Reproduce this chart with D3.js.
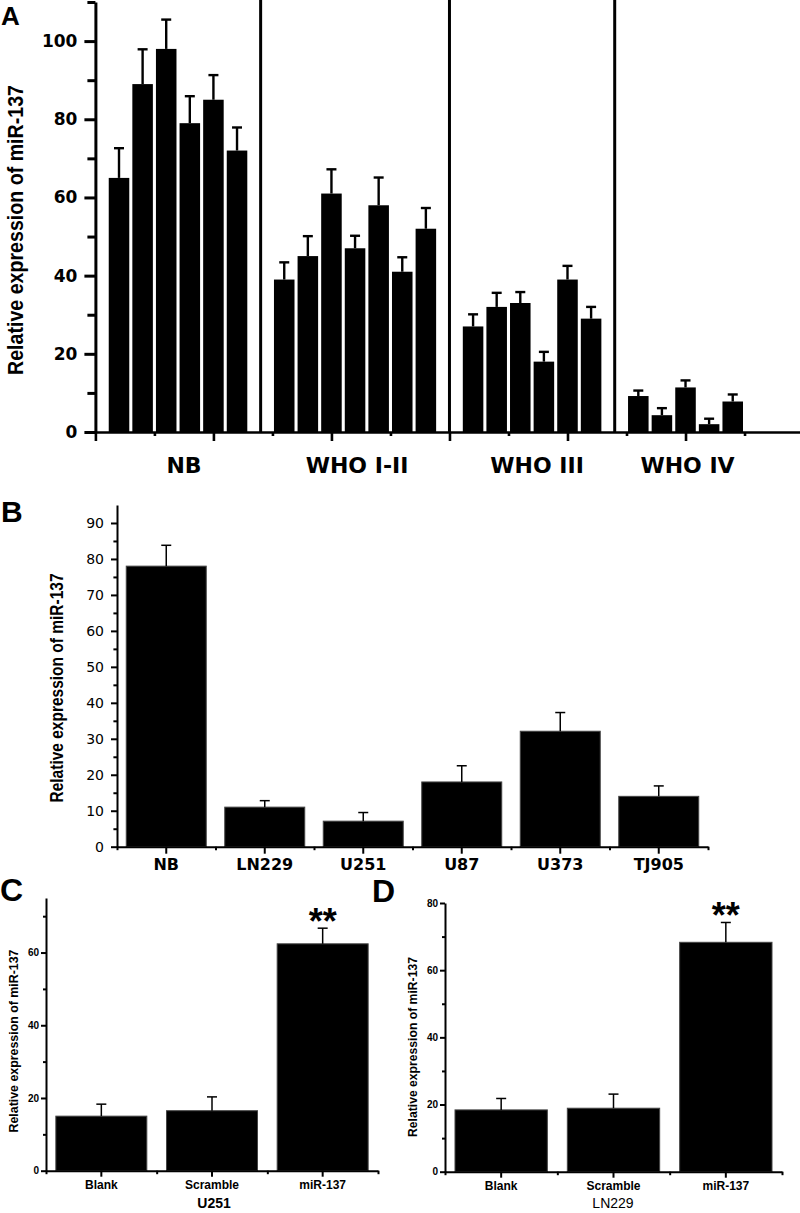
<!DOCTYPE html>
<html>
<head>
<meta charset="utf-8">
<script src="https://cdn.jsdelivr.net/npm/d3@7"></script>
<style>
body { margin: 0; background: #fff; }
svg { display: block; }
</style>
</head>
<body>
<svg id="fig" width="800" height="1213"></svg>
<script>
// ---- Panel A: tissue samples by grade ----
var gradeNames = ["NB", "WHO I-II", "WHO III", "WHO IV"];
var nbVals = [65, 89, 98, 79, 85, 72];
var nbErr = [7.6, 8.9, 7.5, 6.9, 6.3, 5.9];
var who12Vals = [39, 45, 61, 47, 58, 41, 52];
var who12Err = [4.4, 5.1, 6.2, 3.2, 7.1, 3.7, 5.3];
var who3Vals = [27, 32, 33, 18, 39, 29];
var who3Err = [3.1, 3.6, 2.8, 2.5, 3.5, 3];
var who4Vals = [9.2, 4.3, 11.4, 2, 7.8];
var who4Err = [1.4, 1.8, 1.8, 1.4, 1.8];
var aTicks = [0, 20, 40, 60, 80, 100];

// ---- Panel B: cell lines ----
var cellLines = ["NB", "LN229", "U251", "U87", "U373", "TJ905"];
var cellVals = [78, 11, 7.1, 18, 32.1, 14];
var cellErr = [5.8, 1.8, 2.4, 4.5, 5.2, 2.9];
var bTicks = [0, 10, 20, 30, 40, 50, 60, 70, 80, 90];

// ---- Panels C and D: transfection ----
var treatments = ["Blank", "Scramble", "miR-137"];
var u251Vals = [15, 16.5, 62.4];
var u251Err = [3.3, 3.8, 4.3];
var ln229Vals = [18.4, 18.9, 68.3];
var ln229Err = [3.4, 4.2, 5.9];
var cdTicks = [0, 20, 40, 60, 80];

var ylabel = "Relative expression of miR-137";
var sans = "'Liberation Sans', Arial, sans-serif";
var wide = "'DejaVu Sans', Verdana, sans-serif";

var svg = d3.select("#fig");

function styleAxis(sel, w) {
  sel.selectAll("path.domain").attr("stroke", "#000").attr("stroke-width", w);
  sel.selectAll(".tick line").attr("stroke", "#000").attr("stroke-width", w);
}

function panelLetter(txt, x, y, size) {
  svg.append("text").attr("x", x).attr("y", y)
    .attr("font-family", sans).attr("font-weight", "bold")
    .attr("font-size", size).text(txt);
}

function yTitle(x, yc, size, len, weight) {
  svg.append("text")
    .attr("transform", "translate(" + x + "," + yc + ") rotate(-90)")
    .attr("text-anchor", "middle")
    .attr("font-family", sans).attr("font-weight", weight || "bold")
    .attr("font-size", size)
    .attr("textLength", len).attr("lengthAdjust", "spacingAndGlyphs")
    .text(ylabel);
}

// ================= Panel A =================
var groupsA = [nbVals, who12Vals, who3Vals, who4Vals];
var errsA = [nbErr, who12Err, who3Err, who4Err];
var barsA = [], sepSlots = [], groupMid = [];
var slot = 0;
groupsA.forEach(function(vals, g) {
  var start = slot;
  vals.forEach(function(v, i) {
    barsA.push({slot: slot, v: v, e: errsA[g][i]});
    slot++;
  });
  groupMid.push((start + slot - 1) / 2);
  if (g < groupsA.length - 1) { sepSlots.push(slot); slot++; }
});

var xA = d3.scaleLinear().domain([-1, 28.85]).range([95.4, 800]);
var yA = d3.scaleLinear().domain([0, 110]).range([432, 2]);
var slotW = xA(1) - xA(0);
var barWA = slotW * 0.87;

var gA = svg.append("g");

gA.selectAll("rect.bar").data(barsA).enter().append("rect")
  .attr("class", "bar")
  .attr("x", function(d) { return xA(d.slot) - barWA / 2; })
  .attr("width", barWA)
  .attr("y", function(d) { return yA(d.v); })
  .attr("height", function(d) { return yA(0) - yA(d.v); })
  .attr("fill", "#000");

gA.selectAll("line.stem").data(barsA).enter().append("line")
  .attr("x1", function(d) { return xA(d.slot); })
  .attr("x2", function(d) { return xA(d.slot); })
  .attr("y1", function(d) { return yA(d.v); })
  .attr("y2", function(d) { return yA(d.v + d.e); })
  .attr("stroke", "#000").attr("stroke-width", 2.4);
gA.selectAll("line.cap").data(barsA).enter().append("line")
  .attr("x1", function(d) { return xA(d.slot) - 5; })
  .attr("x2", function(d) { return xA(d.slot) + 5; })
  .attr("y1", function(d) { return yA(d.v + d.e); })
  .attr("y2", function(d) { return yA(d.v + d.e); })
  .attr("stroke", "#000").attr("stroke-width", 2.4);

// group separators
gA.selectAll("line.sep").data(sepSlots).enter().append("line")
  .attr("x1", function(d) { return xA(d); })
  .attr("x2", function(d) { return xA(d); })
  .attr("y1", 0).attr("y2", yA(0))
  .attr("stroke", "#000").attr("stroke-width", 3);

// y axis
var yAxA = gA.append("g").attr("transform", "translate(" + xA(-1) + ",0)")
  .call(d3.axisLeft(yA).tickValues(aTicks).tickSize(11).tickSizeOuter(0).tickPadding(7));
yAxA.selectAll("text").attr("font-family", wide).attr("font-weight", "bold")
  .attr("font-size", 17).attr("fill", "#000");
styleAxis(yAxA, 3);
var yMinA = gA.append("g").attr("transform", "translate(" + xA(-1) + ",0)")
  .call(d3.axisLeft(yA).tickValues(d3.range(10, 111, 20)).tickSize(8).tickFormat(""));
yMinA.select("path.domain").remove();
styleAxis(yMinA, 3);

// x axis
var xAxA = gA.append("g").attr("transform", "translate(0," + yA(0) + ")")
  .call(d3.axisBottom(xA).tickValues(d3.range(-1, 28, 5)).tickSize(9).tickSizeOuter(0).tickFormat(""));
styleAxis(xAxA, 2.6);
var xMinA = gA.append("g").attr("transform", "translate(0," + yA(0) + ")")
  .call(d3.axisBottom(xA).tickValues(d3.range(1.5, 28, 5)).tickSize(4).tickFormat(""));
xMinA.select("path.domain").remove();
styleAxis(xMinA, 2.6);

gA.selectAll("text.grp").data(gradeNames).enter().append("text")
  .attr("x", function(d, i) { return xA(groupMid[i]) + (i === 0 ? 6 : i === 2 ? 5 : 2); })
  .attr("y", 473)
  .attr("text-anchor", "middle")
  .attr("font-family", wide).attr("font-weight", "bold").attr("font-size", 22)
  .text(function(d) { return d; });

yTitle(23, 230, 22, 290);
panelLetter("A", 1, 25, 26);

// ============ generic panel for B, C, D ============
function barPanel(cfg) {
  var g = svg.append("g");
  var x = d3.scaleBand().domain(cfg.cats).range([cfg.x0, cfg.x1])
    .paddingInner(cfg.pad).paddingOuter(cfg.pad / 2);
  var xb = d3.scaleLinear().domain([0, cfg.cats.length]).range([cfg.x0, cfg.x1]);
  var y = d3.scaleLinear().domain([0, cfg.yMax]).range([cfg.y0, cfg.yTop]);
  var data = cfg.cats.map(function(c, i) { return {c: c, v: cfg.vals[i], e: cfg.errs[i]}; });

  g.selectAll("rect").data(data).enter().append("rect")
    .attr("x", function(d) { return x(d.c); })
    .attr("width", x.bandwidth())
    .attr("y", function(d) { return y(d.v); })
    .attr("height", function(d) { return y(0) - y(d.v); })
    .attr("fill", "#000").attr("stroke", "#444").attr("stroke-width", 1);

  var cx = function(d) { return x(d.c) + x.bandwidth() / 2; };
  g.selectAll("line.stem").data(data).enter().append("line")
    .attr("x1", cx).attr("x2", cx)
    .attr("y1", function(d) { return y(d.v); })
    .attr("y2", function(d) { return y(d.v + d.e); })
    .attr("stroke", "#000").attr("stroke-width", 1.5);
  g.selectAll("line.cap").data(data).enter().append("line")
    .attr("x1", function(d) { return cx(d) - 5; })
    .attr("x2", function(d) { return cx(d) + 5; })
    .attr("y1", function(d) { return y(d.v + d.e); })
    .attr("y2", function(d) { return y(d.v + d.e); })
    .attr("stroke", "#000").attr("stroke-width", 1.5);

  // y axis
  var ya = g.append("g").attr("transform", "translate(" + cfg.x0 + ",0)")
    .call(d3.axisLeft(y).tickValues(cfg.ticks).tickSize(cfg.tick).tickSizeOuter(0).tickPadding(cfg.tickPad));
  ya.selectAll("text").attr("font-family", cfg.tickFont).attr("font-weight", cfg.tickWeight)
    .attr("font-size", cfg.tickSize).attr("fill", "#000");
  styleAxis(ya, cfg.axisW);
  var minor = cfg.ticks.slice(0, -1).map(function(t, i) { return (t + cfg.ticks[i + 1]) / 2; });
  if (cfg.extraMinor) minor = minor.concat(cfg.extraMinor);
  var ym = g.append("g").attr("transform", "translate(" + cfg.x0 + ",0)")
    .call(d3.axisLeft(y).tickValues(minor).tickSize(cfg.tick * 0.6).tickFormat(""));
  ym.select("path.domain").remove();
  styleAxis(ym, cfg.axisW);

  // x axis: long ticks at categories, short ticks at boundaries
  var xa = g.append("g").attr("transform", "translate(0," + cfg.y0 + ")")
    .call(d3.axisBottom(x).tickSize(cfg.tick + 1).tickSizeOuter(0).tickPadding(cfg.labPad));
  xa.selectAll("text").attr("font-family", cfg.labFont).attr("font-weight", "bold")
    .attr("font-size", cfg.labSize).attr("fill", "#000");
  styleAxis(xa, cfg.axisW);
  var xm = g.append("g").attr("transform", "translate(0," + cfg.y0 + ")")
    .call(d3.axisBottom(xb).tickValues(d3.range(cfg.cats.length + 1)).tickSize(3.5).tickFormat(""));
  xm.select("path.domain").remove();
  styleAxis(xm, cfg.axisW);

  if (cfg.star) {
    var last = data[data.length - 1];
    g.append("text").attr("x", cx(last)).attr("y", y(last.v + last.e) + 6)
      .attr("text-anchor", "middle")
      .attr("font-family", sans).attr("font-weight", "bold").attr("font-size", 36)
      .text("**");
  }
  return {x: x, y: y};
}

// ================= Panel B =================
barPanel({
  cats: cellLines, vals: cellVals, errs: cellErr,
  x0: 117, x1: 708, pad: 0.188, y0: 846.7, yTop: 505, yMax: 95,
  ticks: bTicks, tick: 6, tickPad: 7, tickFont: wide, tickWeight: "normal", tickSize: 14,
  labFont: wide, labSize: 16, labPad: 5, axisW: 2
});
yTitle(63, 688, 18, 229);
panelLetter("B", 1, 522, 30);

// ================= Panel C =================
barPanel({
  cats: treatments, vals: u251Vals, errs: u251Err,
  x0: 46, x1: 378, pad: 0.178, y0: 1170.7, yTop: 898, yMax: 75,
  ticks: cdTicks.slice(0, 4), extraMinor: [70], tick: 5, tickPad: 2, tickFont: sans, tickWeight: "bold", tickSize: 10,
  labFont: sans, labSize: 12, labPad: 4, axisW: 2, star: true
});
yTitle(17.5, 1041, 13, 183);
svg.append("text").attr("x", 214).attr("y", 1208).attr("text-anchor", "middle")
  .attr("font-family", sans).attr("font-weight", "bold").attr("font-size", 14).text("U251");
panelLetter("C", 0, 901, 32);

// ================= Panel D =================
barPanel({
  cats: treatments, vals: ln229Vals, errs: ln229Err,
  x0: 445, x1: 782, pad: 0.178, y0: 1171.7, yTop: 903, yMax: 80,
  ticks: cdTicks, tick: 5, tickPad: 2, tickFont: sans, tickWeight: "bold", tickSize: 10,
  labFont: sans, labSize: 12, labPad: 4, axisW: 2, star: true
});
yTitle(417, 1047, 13, 180);
svg.append("text").attr("x", 613).attr("y", 1208).attr("text-anchor", "middle")
  .attr("font-family", sans).attr("font-size", 14).text("LN229");
panelLetter("D", 372, 902, 32);
</script>
</body>
</html>
